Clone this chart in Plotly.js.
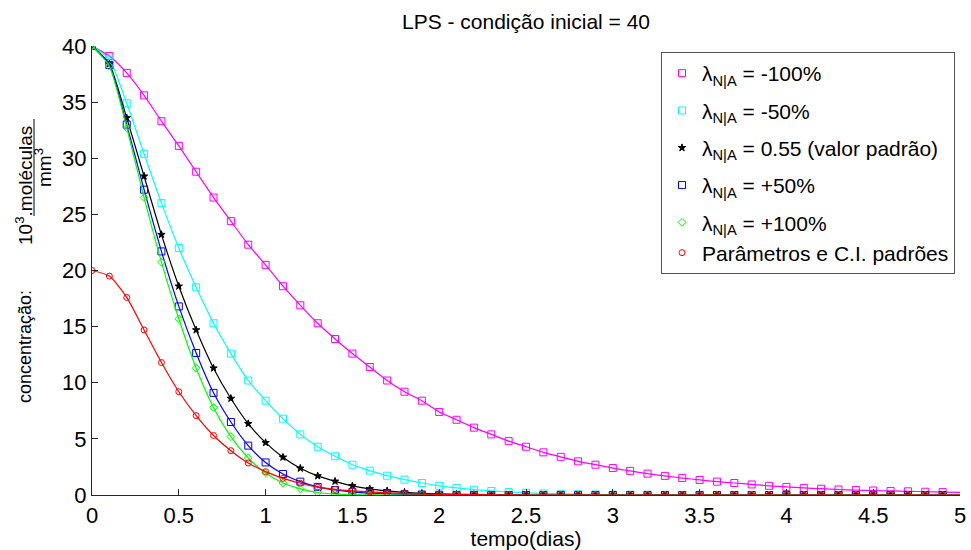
<!DOCTYPE html>
<html>
<head>
<meta charset="utf-8">
<script src="https://cdn.plot.ly/plotly-3.0.1.min.js"></script>
<style>html,body{margin:0;padding:0;background:#fff;}</style>
</head>
<body>
<div id="chart" style="width:971px;height:550px;"></div>
<script>
const tempo = [0,0.1,0.2,0.3,0.4,0.5,0.6,0.7,0.8,0.9,1,1.1,1.2,1.3,1.4,1.5,1.6,1.7,1.8,1.9,2,2.1,2.2,2.3,2.4,2.5,2.6,2.7,2.8,2.9,3,3.1,3.2,3.3,3.4,3.5,3.6,3.7,3.8,3.9,4,4.1,4.2,4.3,4.4,4.5,4.6,4.7,4.8,4.9,5];

const lambdaMenos100 = [40,39.1,37.6,35.6,33.3,31.1,28.8,26.5,24.4,22.3,20.5,18.6,16.9,15.3,13.9,12.6,11.4,10.2,9.2,8.4,7.4,6.7,6.0,5.4,4.8,4.3,3.8,3.4,3.0,2.7,2.4,2.15,1.9,1.7,1.51,1.34,1.19,1.07,0.94,0.82,0.72,0.63,0.56,0.49,0.44,0.40,0.36,0.33,0.29,0.26,0.23];
const lambdaMenos50 = [40,38.8,34.9,30.4,26.0,22.0,18.5,15.3,12.6,10.2,8.4,6.8,5.4,4.3,3.45,2.7,2.17,1.72,1.37,1.07,0.82,0.63,0.47,0.36,0.27,0.2,0.14,0.1,0.07,0.05,0.04,0.03,0.02,0.02,0.01,0.01,0.01,0,0,0,0,0,0,0,0,0,0,0,0,0,0];
const lambdaPadrao = [40,38.4,33.6,28.4,23.2,18.6,14.7,11.3,8.6,6.35,4.66,3.36,2.38,1.7,1.22,0.82,0.55,0.37,0.24,0.15,0.1,0.06,0.04,0.02,0.01,0,0,0,0,0,0,0,0,0,0,0,0,0,0,0,0,0,0,0,0,0,0,0,0,0,0];
const lambdaMais50 = [40,38.3,33.0,27.2,21.7,16.8,12.65,9.1,6.5,4.4,2.9,1.87,1.19,0.72,0.45,0.28,0.17,0.1,0.06,0.04,0.02,0.01,0,0,0,0,0,0,0,0,0,0,0,0,0,0,0,0,0,0,0,0,0,0,0,0,0,0,0,0,0];
const lambdaMais100 = [40,38.2,32.7,26.5,20.75,15.7,11.3,7.8,5.2,3.3,1.96,1.07,0.55,0.22,0.08,0.03,0.01,0,0,0,0,0,0,0,0,0,0,0,0,0,0,0,0,0,0,0,0,0,0,0,0,0,0,0,0,0,0,0,0,0,0];
const padroes = [20,19.5,17.6,14.7,11.8,9.2,7.07,5.3,3.95,2.85,2.08,1.48,1.05,0.7,0.5,0.37,0.27,0.19,0.13,0.09,0.06,0.04,0.03,0.02,0.01,0,0,0,0,0,0,0,0,0,0,0,0,0,0,0,0,0,0,0,0,0,0,0,0,0,0];

const SUB = "<sub>N|A</sub>";
const nomes = [
  "λ" + SUB + " = -100%",
  "λ" + SUB + " = -50%",
  "λ" + SUB + " = 0.55 (valor padrão)",
  "λ" + SUB + " = +50%",
  "λ" + SUB + " = +100%",
  "Parâmetros e C.I. padrões"
];
const series = [lambdaMenos100, lambdaMenos50, lambdaPadrao, lambdaMais50, lambdaMais100, padroes];
const cores = ["#ff00ff", "#00ffff", "#000000", "#0000ff", "#00ff00", "#ff0000"];
const simbolos = ["square-open", "square-open", "star", "square-open", "diamond-open", "circle-open"];
const tamanhos = [7, 7, 5.5, 7, 6, 6];
const grupos = ["g0", "g1", "g2", "g3", "g4", "g4"];

const nMarc = 50;
const traces = [];
series.forEach((ys, i) => {
  traces.push({
    x: tempo, y: ys, mode: "lines", type: "scatter",
    line: {color: cores[i], width: 1.2, shape: "spline", smoothing: 0.6},
    showlegend: false, legendgroup: grupos[i], hoverinfo: "skip"
  });
  traces.push({
    x: tempo.slice(0, nMarc), y: ys.slice(0, nMarc), mode: "markers", type: "scatter",
    name: nomes[i], legendgroup: grupos[i],
    marker: {symbol: simbolos[i], size: tamanhos[i], color: cores[i], line: {color: cores[i], width: 1}}
  });
});

const F = "Liberation Sans, Arial, sans-serif";
const axisCol = "#262626";
const X0 = 92, Y0 = 495, W = 868, H = 449;
const px = v => (v - X0) / W;
const py = v => (Y0 - v) / H;

const layout = {
  width: 971, height: 550,
  margin: {l: 92, r: 11, t: 46, b: 55, pad: 0},
  paper_bgcolor: "#ffffff", plot_bgcolor: "#ffffff",
  font: {family: F, color: "#000000", size: 21},
  title: {text: "LPS - condição inicial = 40", font: {family: F, size: 21, color: "#000"}, x: 0.5, xref: "paper", xanchor: "center", y: 0.96, yref: "container", yanchor: "middle"},
  xaxis: {
    range: [0, 5], tick0: 0, dtick: 0.5, ticks: "inside", ticklen: 6, tickcolor: axisCol, tickwidth: 1,
    showline: true, linecolor: axisCol, linewidth: 1.2, showgrid: false, zeroline: false,
    tickfont: {family: F, size: 22, color: "#000"},
    title: {text: "tempo(dias)", font: {family: F, size: 21, color: "#000"}, standoff: 0}
  },
  yaxis: {
    range: [0, 40], tick0: 0, dtick: 5, ticks: "inside", ticklen: 6, tickcolor: axisCol, tickwidth: 1,
    showline: true, linecolor: axisCol, linewidth: 1.2, showgrid: false, zeroline: false,
    tickfont: {family: F, size: 22, color: "#000"}
  },
  legend: {
    x: px(955), xanchor: "right", y: py(52), yanchor: "top",
    bgcolor: "#ffffff", bordercolor: "#555555", borderwidth: 1,
    font: {family: F, size: 21, color: "#000"}, tracegroupgap: 7, itemsizing: "trace"
  },
  annotations: [
    {text: "concentração:", xref: "paper", yref: "paper", x: px(25), y: py(347), textangle: -90, showarrow: false, font: {family: F, size: 18, color: "#000"}, xanchor: "center", yanchor: "middle"},
    {text: "10<sup>3</sup>.moléculas", xref: "paper", yref: "paper", x: px(24), y: py(186), textangle: -90, showarrow: false, font: {family: F, size: 19, color: "#000"}, xanchor: "center", yanchor: "middle"},
    {text: "mm<sup>3</sup>", xref: "paper", yref: "paper", x: px(43), y: py(168), textangle: -90, showarrow: false, font: {family: F, size: 19, color: "#000"}, xanchor: "center", yanchor: "middle"}
  ],
  shapes: [
    {type: "line", xref: "paper", yref: "paper", x0: px(34), x1: px(34), y0: py(119), y1: py(216), line: {color: "#000", width: 1}}
  ]
};

Plotly.newPlot("chart", traces, layout, {displayModeBar: false, staticPlot: true});
</script>
</body>
</html>
